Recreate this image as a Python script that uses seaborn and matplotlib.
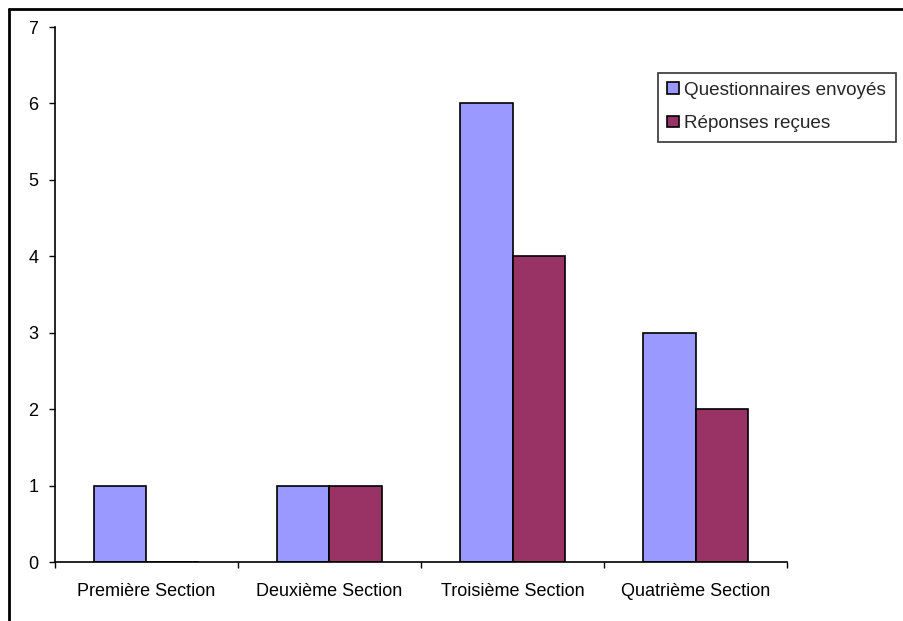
import matplotlib
matplotlib.use("Agg")
import matplotlib.pyplot as plt
from matplotlib.lines import Line2D
from matplotlib.ticker import FixedLocator
import pandas as pd
import seaborn as sns

sections = ["Première Section", "Deuxième Section", "Troisième Section", "Quatrième Section"]
envoyes = [1, 1, 6, 3]
recues = [0, 1, 4, 2]
series_names = ["Questionnaires envoyés", "Réponses reçues"]
palette = ["#9999FF", "#993366"]
y_ticks = [0, 1, 2, 3, 4, 5, 6, 7]

df = pd.DataFrame({
    "section": sections * 2,
    "serie": [series_names[0]] * len(sections) + [series_names[1]] * len(sections),
    "valeur": envoyes + recues,
})

sns.set_theme(style="white")
plt.rcParams["font.family"] = ["Liberation Sans", "DejaVu Sans"]

fig = plt.figure(figsize=(9.04, 6.21), dpi=100)
ax = fig.add_axes([0.0608, 0.095, 0.8098, 0.8615])

sns.barplot(data=df, x="section", y="valeur", hue="serie", order=sections,
            hue_order=series_names, palette=palette, width=0.57, saturation=1,
            edgecolor="black", linewidth=1.2, ax=ax, legend=True)

ax.set_xlim(-0.5, len(sections) - 0.5)
ax.set_ylim(0, 7)
ax.set_yticks(y_ticks)
ax.set_yticklabels([str(t) for t in y_ticks], fontsize=13, color="black")
ax.set_xlabel("")
ax.set_ylabel("")
ax.tick_params(axis="x", which="major", length=0, pad=15, labelsize=13, labelcolor="black")
ax.xaxis.set_minor_locator(FixedLocator([i - 0.5 for i in range(len(sections) + 1)]))
ax.tick_params(axis="x", which="minor", length=4, width=1, color="black", direction="out", bottom=True)
ax.tick_params(axis="y", length=4, width=1, color="black", direction="out", left=True, pad=8)

for side in ["top", "right"]:
    ax.spines[side].set_visible(False)
for side in ["left", "bottom"]:
    ax.spines[side].set_color("black")
    ax.spines[side].set_linewidth(1.2)

handles, labels = ax.get_legend_handles_labels()
leg = ax.legend(handles, labels, loc="upper left", bbox_to_anchor=(0.7277, 0.8830, 0, 0),
                bbox_transform=fig.transFigure, frameon=True, fancybox=False,
                edgecolor="black", fontsize=13.6, handlelength=0.6, handleheight=0.6,
                handletextpad=0.3, labelspacing=0.85, borderpad=0.5, borderaxespad=0)
leg.get_frame().set_linewidth(1.2)

# outer chart frame (top and left edges)
y_top = 1 - 9 / 621
x_left = 9 / 904
fig.add_artist(Line2D([x_left, 1.0], [y_top, y_top], transform=fig.transFigure, color="black", lw=2))
fig.add_artist(Line2D([x_left, x_left], [0.0, y_top], transform=fig.transFigure, color="black", lw=2))

fig.savefig("out.png", dpi=100)
